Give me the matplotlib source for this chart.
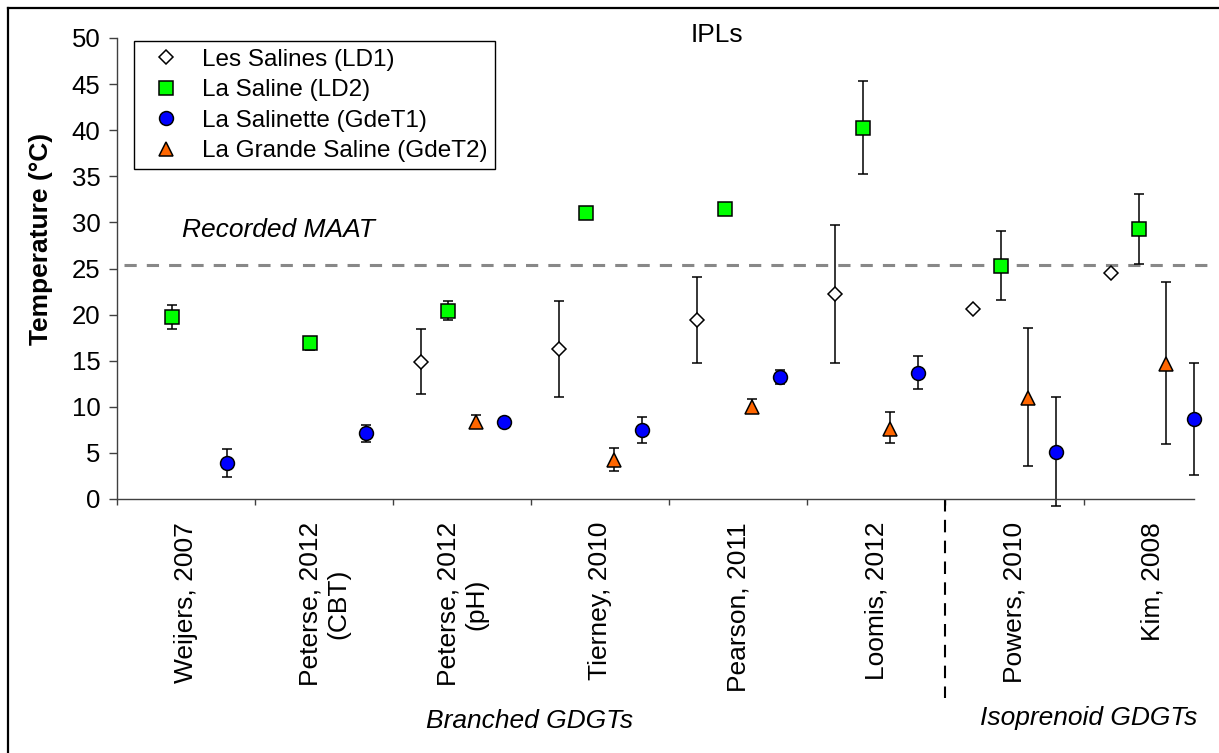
import numpy as np
import matplotlib
matplotlib.use("Agg")
import matplotlib.pyplot as plt
from matplotlib.lines import Line2D
import matplotlib.transforms as mtransforms

plt.rcParams['font.family'] = ['Liberation Sans', 'DejaVu Sans']

# ---------------- data ----------------
studies = ["Weijers, 2007", "Peterse, 2012\n(CBT)", "Peterse, 2012\n(pH)", "Tierney, 2010",
           "Pearson, 2011", "Loomis, 2012", "Powers, 2010", "Kim, 2008"]

series_names = ["Les Salines (LD1)", "La Saline (LD2)", "La Salinette (GdeT1)",
                "La Grande Saline (GdeT2)"]

nan = np.nan
# Les Salines (LD1)
ld1_val = [nan, nan, 14.9, 16.3, 19.4, 22.2, 20.6, 24.5]
ld1_low = [nan, nan, 11.4, 11.1, 14.8, 14.8, nan, nan]
ld1_high = [nan, nan, 18.45, 21.5, 24.1, 29.7, nan, nan]
# La Saline (LD2)
ld2_val = [19.7, 16.9, 20.4, 31.05, 31.45, 40.25, 25.3, 29.25]
ld2_low = [18.45, 16.2, 19.4, nan, nan, 35.2, 21.6, 25.5]
ld2_high = [21.0, 17.4, 21.5, nan, nan, 45.3, 29.1, 33.05]
# La Salinette (GdeT1)
gdet1_val = [3.95, 7.15, 8.3, 7.45, 13.2, 13.7, 5.1, 8.7]
gdet1_low = [2.42, 6.2, 8.0, 6.05, 12.45, 11.9, -0.75, 2.6]
gdet1_high = [5.46, 8.03, 8.6, 8.86, 14.0, 15.5, 11.05, 14.7]
# La Grande Saline (GdeT2)
gdet2_val = [nan, nan, 8.3, 4.25, 9.95, 7.6, 11.0, 14.6]
gdet2_low = [nan, nan, 8.0, 3.05, 9.3, 6.05, 3.6, 6.0]
gdet2_high = [nan, nan, 9.1, 5.55, 10.9, 9.45, 18.55, 23.5]

maat = 25.4
yticks = [0, 5, 10, 15, 20, 25, 30, 35, 40, 45, 50]

# ---------------- styles ----------------
styles = [
    dict(marker='D', ms=6.8, mfc='white'),
    dict(marker='s', ms=9.4, mfc='#00FF00'),
    dict(marker='o', ms=10.0, mfc='#0000FF'),
    dict(marker='^', ms=10.0, mfc='#FF6600'),
]
offsets = [-0.3, -0.1, 0.3, 0.1]

fig = plt.figure(figsize=(12.19, 7.53), dpi=100)
ax = fig.add_axes([117 / 1219, 1 - 499 / 753, 1077 / 1219, 461 / 753])

vals = [ld1_val, ld2_val, gdet1_val, gdet2_val]
lows = [ld1_low, ld2_low, gdet1_low, gdet2_low]
highs = [ld1_high, ld2_high, gdet1_high, gdet2_high]

n = len(studies)
base = np.arange(n) + 0.5
handles = []
for k in range(4):
    v = np.array(vals[k], float)
    lo = np.array(lows[k], float)
    hi = np.array(highs[k], float)
    x = base + offsets[k]
    e = ~np.isnan(lo) & ~np.isnan(v)
    if e.any():
        cont = ax.errorbar(x[e], v[e], yerr=[v[e] - lo[e], hi[e] - v[e]], fmt='none',
                           ecolor='black', elinewidth=1.1, capsize=3.3, capthick=1.1, zorder=2)
        for child in cont.get_children():
            child.set_clip_on(False)
    m = ~np.isnan(v)
    h, = ax.plot(x[m], v[m], linestyle='none', marker=styles[k]['marker'],
                 markersize=styles[k]['ms'], markerfacecolor=styles[k]['mfc'],
                 markeredgecolor='black', markeredgewidth=1.1, zorder=3, clip_on=False,
                 label=series_names[k])
    handles.append(h)

# recorded MAAT line
ax.plot([0.05, 7.93], [maat, maat], color='#888888', lw=2.2, dashes=(4, 3.3),
        zorder=1, clip_on=False)
ax.text(0.47, 29.2, "Recorded MAAT", fontsize=19, style='italic', ha='left', va='center')

ax.set_xlim(0, 7.8)
ax.set_ylim(0, 50)
ax.set_yticks(yticks)
ax.set_yticklabels([str(t) for t in yticks], fontsize=18.5)
ax.set_xticks(np.arange(0, 8))
ax.set_xticklabels([])
ax.set_xticks(base, studies, minor=True)
ax.tick_params(axis='x', which='minor', length=0, pad=16.5, labelsize=19, labelrotation=90)
ax.tick_params(axis='x', which='major', length=4, width=1, direction='out', color='#404040')
ax.tick_params(axis='y', which='major', length=6, width=1, direction='out', color='#404040', pad=6)

for s in ['top', 'right']:
    ax.spines[s].set_visible(False)
for s in ['left', 'bottom']:
    ax.spines[s].set_color('#404040')
    ax.spines[s].set_linewidth(1.0)

fig.text(41 / 1219, 1 - 239 / 753, "Temperature (°C)", fontsize=19, fontweight='bold',
         rotation=90, ha='center', va='center')

leg = ax.legend(handles=handles, loc='upper left', bbox_to_anchor=(0.0158, 0.993),
                borderaxespad=0, fontsize=17.5, frameon=True, fancybox=False,
                edgecolor='black', framealpha=1, borderpad=0.3, handlelength=2.0,
                handletextpad=0.5, labelspacing=0.35, numpoints=1)
leg.get_frame().set_linewidth(1.0)

# separator between branched / isoprenoid
trans = mtransforms.blended_transform_factory(ax.transData, ax.transAxes)
ax.plot([6, 6], [0, -(698 - 499) / 461], transform=trans, color='black', lw=1.5,
        dashes=(6, 4), clip_on=False)

fig.text(717 / 1219, 1 - 35 / 753, "IPLs", fontsize=19, ha='center', va='center')
fig.text(530 / 1219, 1 - 721 / 753, "Branched GDGTs", fontsize=19, style='italic',
         ha='center', va='center')
fig.text(1089 / 1219, 1 - 718 / 753, "Isoprenoid GDGTs", fontsize=19, style='italic',
         ha='center', va='center')

# outer frame (left and top edges)
fig.add_artist(Line2D([7.5 / 1219, 7.5 / 1219], [0, 1 - 7.5 / 753], color='black', lw=1.6,
                      transform=fig.transFigure))
fig.add_artist(Line2D([7.5 / 1219, 1], [1 - 7.5 / 753, 1 - 7.5 / 753], color='black', lw=1.6,
                      transform=fig.transFigure))

fig.savefig("out.png", dpi=100)
